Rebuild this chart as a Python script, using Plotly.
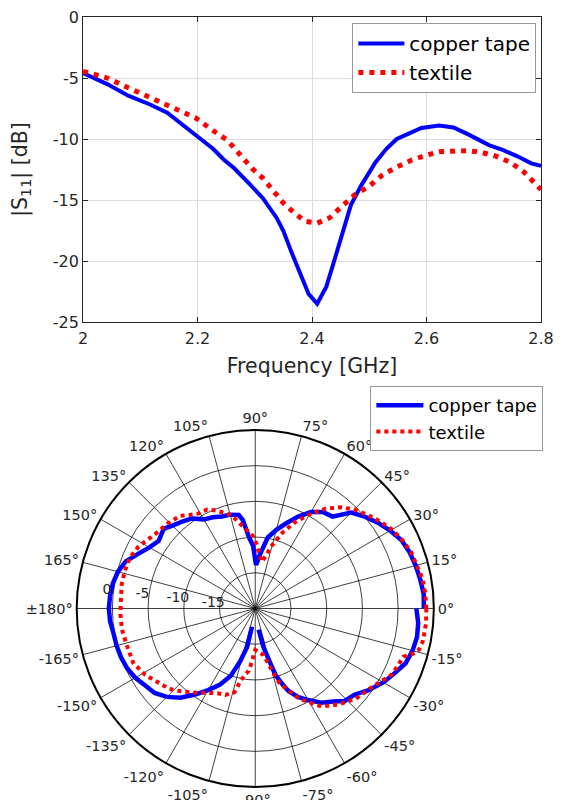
import plotly.graph_objects as go

# ---------------- data: return loss ----------------
freq_cu = [2.0, 2.042, 2.079, 2.116, 2.147, 2.165, 2.196, 2.227, 2.246, 2.264, 2.289, 2.314,
           2.338, 2.35, 2.363, 2.378, 2.394, 2.409, 2.425, 2.437, 2.449, 2.468, 2.486, 2.511,
           2.53, 2.548, 2.567, 2.591, 2.622, 2.647, 2.672, 2.709, 2.733, 2.758, 2.783, 2.8]
s11_cu = [-4.6, -5.5, -6.45, -7.15, -7.85, -8.5, -9.7, -10.8, -11.7, -12.4, -13.6, -14.85,
          -16.45, -17.55, -19.15, -20.8, -22.7, -23.5, -22.1, -20.25, -18.35, -15.4, -13.8, -11.9,
          -10.8, -10.0, -9.6, -9.1, -8.9, -9.05, -9.6, -10.5, -10.9, -11.4, -12.0, -12.2]

freq_tx = [2.0, 2.042, 2.079, 2.116, 2.153, 2.196, 2.227, 2.252, 2.27, 2.295, 2.314, 2.332,
           2.35, 2.369, 2.388, 2.409, 2.431, 2.449, 2.474, 2.499, 2.523, 2.548, 2.573, 2.598,
           2.622, 2.647, 2.672, 2.696, 2.721, 2.746, 2.77, 2.8]
s11_tx = [-4.45, -5.0, -5.8, -6.6, -7.3, -8.25, -9.3, -10.1, -11.05, -12.4, -13.2, -14.3,
          -15.25, -16.05, -16.75, -16.9, -16.45, -15.65, -14.6, -13.9, -12.95, -12.3, -11.75, -11.35,
          -11.05, -11.0, -10.95, -11.1, -11.4, -11.9, -12.7, -14.15]

x_ticks = [2.0, 2.2, 2.4, 2.6, 2.8]
x_labels = ["2", "2.2", "2.4", "2.6", "2.8"]
y_ticks = [0, -5, -10, -15, -20, -25]
y_labels = ["0", "-5", "-10", "-15", "-20", "-25"]

# ---------------- data: radiation pattern ----------------
ang_cu = [0, 5, 10, 15, 20, 25, 30, 35, 40, 45, 50, 55, 60, 65, 70, 75, 80, 85, 89, 92,
          95, 98, 100, 105, 110, 115, 120, 125, 130, 135, 139, 145, 150, 155, 160, 165, 170, 175,
          180, 185, 190, 195, 200, 205, 210, 215, 220, 225, 230, 235, 240, 245, 250, 254, 258, 260,
          None,
          279, 282, 285, 287, 290, 292, 296, 300, 305, 310, 314, 319, 324, 330, 335, 340, 345,
          350, 355, 360]
gain_cu = [3.6, 3.67, 3.45, 3.25, 3.0, 2.6, 1.8, 0.95, 0.0, -1.0, -3.2, -3.5, -4.4, -5.8, -7.3, -8.6, -9.9, -12.4, -13.9, -11.2,
           -10.0, -7.5, -6.7, -6.4, -6.3, -5.9, -5.6, -4.6, -4.1, -3.6, -3.0, -3.5, -2.9, -1.9, -0.7, -0.1, 0.25, 0.4,
           0.5, 0.4, 0.15, 0.1, 0.0, -0.2, -0.6, -1.2, -1.6, -2.5, -3.7, -5.3, -6.8, -8.2, -10.0, -12.3, -14.5, -17.4,
           None,
           -17.0, -14.5, -12.4, -10.2, -8.6, -7.5, -6.2, -5.2, -3.9, -3.0, -2.0, -1.6, -0.5, 0.7, 1.5, 2.4, 2.8,
           3.0, 2.9, 2.55]

ang_tx = [0, 5, 10, 15, 20, 25, 30, 35, 40, 45, 50, 55, 60, 65, 70, 75, 79, 82, 86, 89,
          92, 96, 101, 104, 108, 112, 116, 121, 125, 129, 136, 144, 152, 158, 164, 170, 176, 182,
          189, 196, 204, 211, 218, 223, 228, 236, 241, 246, 251, 256, 259, 262, 264, 266, 270, 273,
          280, 283, 286, 288, 292, 295, 297, 304, 311, 318, 326, 334, 338, 342, 344, 346, 349,
          355, 360]
gain_tx = [3.95, 3.9, 3.8, 3.4, 3.2, 2.7, 2.1, 1.3, 0.45, -0.4, -1.5, -2.95, -4.8, -6.6, -8.6, -10.8, -12.6, -13.4, -12.3, -10.9,
           -9.8, -9.0, -7.7, -6.6, -5.9, -5.2, -4.6, -4.5, -4.0, -3.3, -2.9, -2.5, -1.5, -1.05, -1.0, -1.0, -1.15, -1.1,
           -1.1, -1.3, -1.3, -2.0, -3.0, -3.5, -4.4, -5.75, -6.5, -7.0, -7.2, -7.9, -9.85, -10.8, -11.2, -12.35, -14.2, -14.0,
           -13.4, -12.2, -10.4, -9.0, -7.7, -6.4, -5.7, -3.45, -2.2, -1.1, -0.3, 1.2, 1.5, 1.8, 3.0, 3.65, 3.9,
           4.0, 3.95]

angle_ticks = [0, 15, 30, 45, 60, 75, 90, 105, 120, 135, 150, 165,
               180, 195, 210, 225, 240, 255, 270, 285, 300, 315, 330, 345]
angle_labels = ["0°", "15°", "30°", "45°", "60°", "75°", "90°", "105°", "120°", "135°", "150°", "165°",
                "±180°", "-165°", "-150°", "-135°", "-120°", "-105°", "-90°", "-75°", "-60°", "-45°", "-30°", "-15°"]
r_ticks = [-15, -10, -5, 0, 5]
r_labels = ["-15", "-10", "-5", "0", "5"]

series_names = ["copper tape", "textile"]

FONT = "DejaVu Sans, Liberation Sans, Arial, sans-serif"
W, H = 546, 792
AX = "#262626"
R_LABEL_ANGLE = 173
R_LABEL_SHIFT = 0.92

# observed placement of the figure in the final picture (offset and scale)
SX0, SY0, KX, KY = 13.0, 17.0, 0.966, 0.976


def fx(sx):
    """picture x -> figure pixel x"""
    return (sx - SX0) / KX


def fy(sy):
    """picture y -> figure pixel y"""
    return (sy - SY0) / KY


def clamp(v):
    return max(0.0, min(1.0, v))


def px(sx):
    return clamp(fx(sx) / W)


def py(sy):
    return clamp(1 - fy(sy) / H)


fig = go.Figure()

fig.add_trace(go.Scatter(x=freq_cu, y=s11_cu, mode="lines", name=series_names[0],
                         line=dict(color="#0000ff", width=4), legend="legend"))
fig.add_trace(go.Scatter(x=freq_tx, y=s11_tx, mode="lines", name=series_names[1],
                         line=dict(color="#ff0000", width=5, dash="5px,6px"), legend="legend"))

fig.add_trace(go.Scatterpolar(theta=ang_cu, r=gain_cu, mode="lines", name=series_names[0],
                              line=dict(color="#0000ff", width=4.5), legend="legend2", connectgaps=False))
fig.add_trace(go.Scatterpolar(theta=ang_tx, r=gain_tx, mode="lines", name=series_names[1],
                              line=dict(color="#ff0000", width=4, dash="4px,4px"), legend="legend2"))

fig.add_trace(go.Scatterpolar(theta=[R_LABEL_ANGLE] * len(r_ticks),
                              r=[t + R_LABEL_SHIFT for t in r_ticks],
                              mode="text", text=r_labels, textposition="middle center",
                              textfont=dict(size=14, color=AX, family=FONT),
                              cliponaxis=False, showlegend=False, hoverinfo="skip"))

# target geometry in picture pixels
x0, x1, y0, y1 = 83, 548, 13, 322
cx, cy, R_pic = 255, 608.5, 179.3
Rf = R_pic / ((KX + KY) / 2)
cfx, cfy = fx(cx), fy(cy)

fig.update_layout(
    width=W, height=H,
    margin=dict(l=0, r=0, t=0, b=0),
    paper_bgcolor="white", plot_bgcolor="white",
    font=dict(family=FONT, color=AX, size=16),
    xaxis=dict(domain=[px(x0), px(x1)], range=[2.0, 2.8], tickvals=x_ticks, ticktext=x_labels,
               showgrid=True, gridcolor="#dcdcdc", gridwidth=1, zeroline=False,
               showline=True, linecolor=AX, linewidth=1, mirror="ticks",
               ticks="inside", ticklen=5, tickcolor=AX, tickfont=dict(size=16),
               ticklabeloverflow="allow", ticklabelstandoff=2,
               title=dict(text="Frequency [GHz]", font=dict(size=20.5), standoff=11)),
    yaxis=dict(domain=[py(y1), py(y0)], range=[-25, 0], tickvals=y_ticks, ticktext=y_labels,
               showgrid=True, gridcolor="#dcdcdc", gridwidth=1, zeroline=False,
               showline=True, linecolor=AX, linewidth=1, mirror="ticks",
               ticks="inside", ticklen=5, tickcolor=AX, tickfont=dict(size=16),
               ticklabeloverflow="allow",
               title=dict(text="|S<sub>11</sub>| [dB]", font=dict(size=20.5), standoff=23)),
    polar=dict(
        domain=dict(x=[clamp((cfx - Rf) / W), clamp((cfx + Rf) / W)],
                    y=[clamp(1 - (cfy + Rf) / H), clamp(1 - (cfy - Rf) / H)]),
        bgcolor="white",
        angularaxis=dict(direction="counterclockwise", rotation=0,
                         tickmode="array", tickvals=angle_ticks, ticktext=angle_labels,
                         showgrid=True, gridcolor="rgba(0,0,0,0.75)", gridwidth=1,
                         showline=True, linecolor="black", linewidth=2,
                         ticks="", tickfont=dict(size=14.5, color=AX)),
        radialaxis=dict(range=[-20, 5], tickmode="array", tickvals=r_ticks, ticktext=r_labels,
                        angle=R_LABEL_ANGLE, showticklabels=False,
                        showgrid=True, gridcolor="rgba(0,0,0,0.75)", gridwidth=1,
                        showline=False, ticks=""),
    ),
    legend=dict(x=px(352), y=py(23), xanchor="left", yanchor="top",
                bgcolor="white", bordercolor="#999999", borderwidth=1,
                font=dict(size=20, color="black"), itemwidth=46, tracegroupgap=0),
    legend2=dict(x=px(370), y=py(386), xanchor="left", yanchor="top",
                 bgcolor="white", bordercolor="#999999", borderwidth=1,
                 font=dict(size=18, color="black"), itemwidth=47, tracegroupgap=0),
    showlegend=True,
)

fig.write_html("out.html", config={"displayModeBar": False})
